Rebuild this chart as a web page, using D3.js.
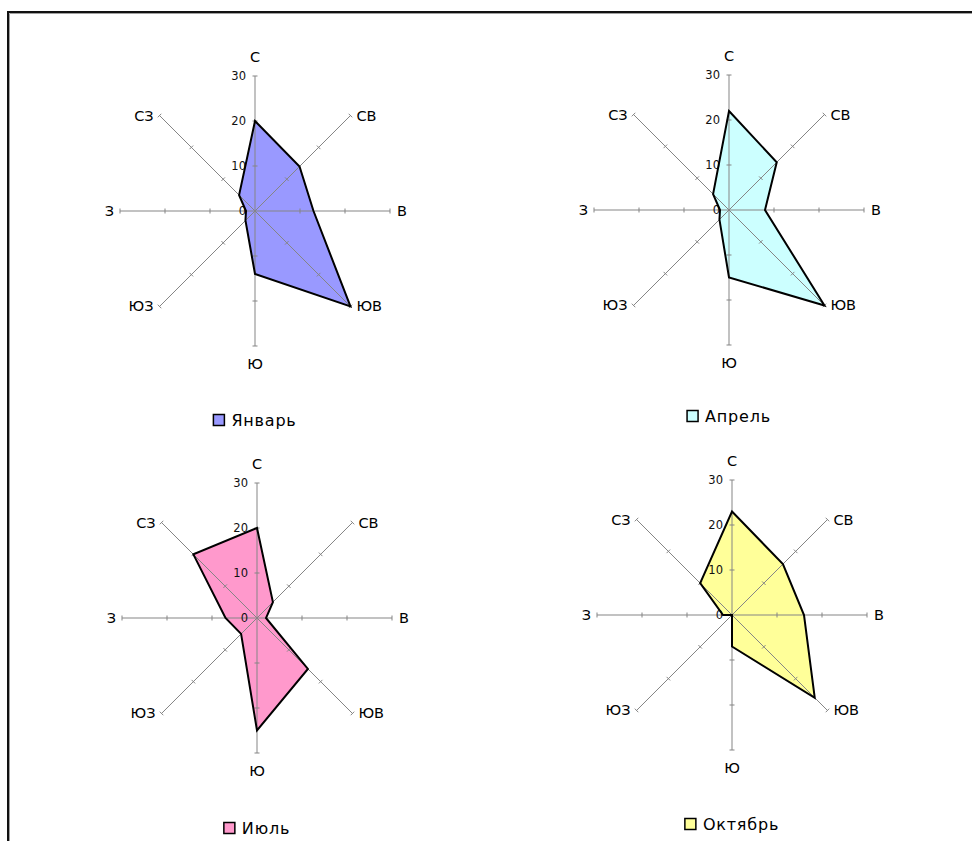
<!DOCTYPE html>
<html>
<head>
<meta charset="utf-8">
<script src="https://cdn.jsdelivr.net/npm/d3@7"></script>
<style>
  html, body { margin: 0; padding: 0; background: #ffffff; }
  svg { display: block; font-family: "DejaVu Sans", Verdana, sans-serif; }
</style>
</head>
<body>
<svg id="chart" width="972" height="841"></svg>
<script>
// Wind directions, clockwise from north
const directions = ["С", "СВ", "В", "ЮВ", "Ю", "ЮЗ", "З", "СЗ"];
// Radial axis tick labels
const tickValues = [0, 10, 20, 30];
// Share of winds by direction, per month
const january = [20, 14, 13, 30, 14, 3, 2, 5];
const april   = [22, 15, 8, 30, 15, 3, 2, 5];
const july    = [20, 5, 2, 16, 25, 5, 7, 20];
const october = [23, 16, 16, 26, 7, 0, 2, 10];
const months  = ["Январь", "Апрель", "Июль", "Октябрь"];

const seriesList = [january, april, july, october];
const fillColors = ["#9999ff", "#ccffff", "#ff99cc", "#ffff99"];
const panels = [
  { cx: 255, cy: 211, legendY: 420 },
  { cx: 729, cy: 210, legendY: 416 },
  { cx: 257, cy: 618, legendY: 828 },
  { cx: 732, cy: 615, legendY: 824 }
];

const svg = d3.select("#chart");
const maxR = 135;
const r = d3.scaleLinear().domain([0, 30]).range([0, maxR]);
const angle = d3.scalePoint().domain(d3.range(directions.length + 1)).range([0, 2 * Math.PI]);

// outer frame
svg.append("path").attr("d", "M8,841 V12 H972")
  .attr("fill", "none").attr("stroke", "#111").attr("stroke-width", 2);
svg.append("path").attr("d", "M9.5,841 V13.5 H972")
  .attr("fill", "none").attr("stroke", "#a0a0a0").attr("stroke-width", 1);

const radial = d3.lineRadial()
  .angle((d, i) => angle(i))
  .radius(d => r(d))
  .curve(d3.curveLinearClosed);

seriesList.forEach((values, k) => {
  const p = panels[k];
  const g = svg.append("g").attr("transform", `translate(${p.cx},${p.cy})`);

  // filled area
  g.append("path").attr("d", radial(values)).attr("fill", fillColors[k]).attr("stroke", "none");

  // spokes with tick marks
  directions.forEach((dir, i) => {
    const a = angle(i);
    const sx = Math.sin(a), sy = -Math.cos(a);
    const ax = g.append("g");
    ax.append("line")
      .attr("x1", 0).attr("y1", 0)
      .attr("x2", sx * r(30)).attr("y2", sy * r(30))
      .attr("stroke", "#858585").attr("stroke-width", 1);
    tickValues.slice(1).forEach(t => {
      const px = sx * r(t), py = sy * r(t);
      const len = 2.5;
      ax.append("line")
        .attr("x1", px - sy * len).attr("y1", py + sx * len)
        .attr("x2", px + sy * len).attr("y2", py - sx * len)
        .attr("stroke", "#858585").attr("stroke-width", 1);
    });

    // direction label
    const ex = sx * r(30), ey = sy * r(30);
    const lab = g.append("text").text(dir)
      .attr("font-size", 14.5).attr("fill", "#000")
      .attr("dominant-baseline", "central");
    if (i === 0) {
      lab.attr("x", 0).attr("y", ey - 19).attr("text-anchor", "middle");
    } else if (i === 4) {
      lab.attr("x", 0).attr("y", ey + 18).attr("text-anchor", "middle");
    } else if (i === 2) {
      lab.attr("x", ex + 7).attr("y", 0).attr("text-anchor", "start");
    } else if (i === 6) {
      lab.attr("x", ex - 6).attr("y", 0).attr("text-anchor", "end");
    } else if (sx > 0) {
      lab.attr("x", ex + 6).attr("y", ey).attr("text-anchor", "start");
    } else {
      lab.attr("x", ex - 6).attr("y", ey).attr("text-anchor", "end");
    }
  });

  // value labels along the north spoke
  g.selectAll("text.tick").data(tickValues).join("text")
    .attr("class", "tick")
    .attr("x", -9).attr("y", d => -r(d))
    .attr("text-anchor", "end").attr("dominant-baseline", "central")
    .attr("font-size", 11.5).attr("fill", "#111")
    .text(d => d);

  // outline
  g.append("path").attr("d", radial(values))
    .attr("fill", "none").attr("stroke", "#000").attr("stroke-width", 2)
    .attr("stroke-linejoin", "miter");

  // legend
  const lg = svg.append("g").attr("transform", `translate(${p.cx},${p.legendY})`);
  const txt = lg.append("text").text(months[k])
    .attr("font-size", 16).attr("letter-spacing", 0.8)
    .attr("dominant-baseline", "central").attr("fill", "#000");
  const w = txt.node().getComputedTextLength();
  const total = 11 + 7 + w;
  lg.insert("rect", "text")
    .attr("x", -total / 2).attr("y", -5.5).attr("width", 11).attr("height", 11)
    .attr("fill", fillColors[k]).attr("stroke", "#000").attr("stroke-width", 1.5);
  txt.attr("x", -total / 2 + 18);
});
</script>
</body>
</html>
